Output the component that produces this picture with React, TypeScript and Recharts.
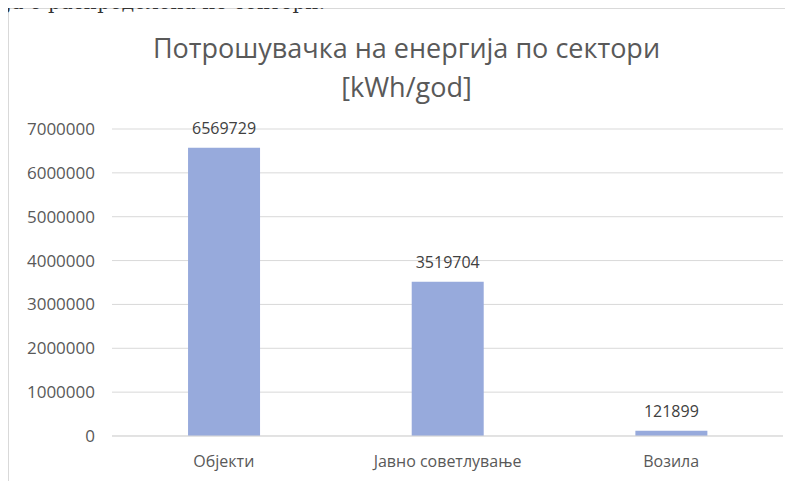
import React from 'react';
import { BarChart, Bar, XAxis, YAxis, CartesianGrid, LabelList } from 'recharts';

const sectors = ['Објекти', 'Јавно советлување', 'Возила'];
const consumption = [6569729, 3519704, 121899];
const yTicks = [0, 1000000, 2000000, 3000000, 4000000, 5000000, 6000000, 7000000];

const data = sectors.map((name, i) => ({ name, value: consumption[i] }));

const FONT = '"Open Sans", "Noto Sans", sans-serif';
const GREY = '#595959';

export default function App() {
  return (
    <div style={{ position: 'relative', width: 785, height: 473 }}>
      <div
        style={{
          position: 'absolute',
          left: 0,
          top: 0,
          width: 785,
          height: 473,
          borderTop: '1px solid #d9d9d9',
          borderLeft: '1px solid #d9d9d9',
          boxSizing: 'border-box',
          background: '#fff',
        }}
      >
        <div
          style={{
            position: 'absolute',
            left: 0,
            top: 19,
            width: 795,
            textAlign: 'center',
            fontFamily: FONT,
            fontSize: 27,
            lineHeight: '39px',
            color: GREY,
          }}
        >
          Потрошувачка на енергија по сектори
          <br />
          [kWh/god]
        </div>
        <BarChart
          width={785}
          height={473}
          data={data}
          margin={{ top: 120, right: 11, bottom: 16, left: 0 }}
          barCategoryGap="34%"
        >
          <CartesianGrid vertical={false} stroke="#d9d9d9" />
          <XAxis
            dataKey="name"
            axisLine={{ stroke: '#d9d9d9' }}
            tickLine={false}
            tickMargin={14}
            height={30}
            tick={{ fill: GREY, fontSize: 16, fontFamily: FONT }}
          />
          <YAxis
            width={103}
            domain={[0, 7000000]}
            ticks={yTicks}
            axisLine={false}
            tickLine={false}
            tickMargin={11}
            tick={{ fill: GREY, fontSize: 17, fontFamily: FONT }}
          />
          <Bar dataKey="value" fill="#97aadc" isAnimationActive={false}>
            <LabelList
              dataKey="value"
              position="top"
              offset={14}
              fill="#404040"
              fontSize={16}
              fontFamily={FONT}
            />
          </Bar>
        </BarChart>
      </div>
      {/* body text of the document, cut off by the screenshot */}
      <div
        style={{
          position: 'absolute',
          right: 468,
          top: -18,
          zIndex: 2,
          fontFamily: '"DejaVu Serif", serif',
          fontSize: 20,
          lineHeight: '24px',
          color: '#333',
          whiteSpace: 'nowrap',
        }}
      >
        Потрошувачката на енергија е распределена по сектори.
      </div>
    </div>
  );
}
